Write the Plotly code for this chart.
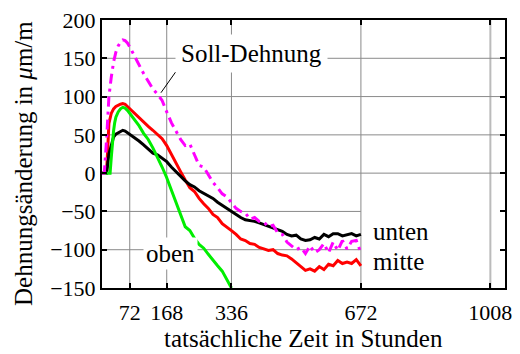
import plotly.graph_objects as go

# Time axis (hours) shared by the Soll, mitte and unten series
hours = [0, 6, 12, 18, 24, 30, 36, 42, 48, 54, 60, 66, 72,
         84, 96, 108, 120, 132, 144, 156, 168, 180, 192, 204, 216, 228, 240,
         252, 264, 276, 288, 300, 312, 324, 336, 348, 360, 372, 384, 396, 408,
         420, 432, 444, 456, 468, 480, 492, 504, 516, 528, 540, 552, 564, 576,
         588, 600, 612, 624, 636, 648, 660, 672]

soll = [0, 0, 45, 100, 125, 145, 158, 166, 171, 174, 173, 170, 165,
        153, 141, 130, 120, 110, 103, 95, 80, 66, 55, 44, 36, 38, 24,
        10, 8, -3, -12, -19, -27, -31, -38, -46, -50, -52, -60, -58, -63,
        -64, -70, -68, -78, -80, -90, -95, -100, -97, -105, -95, -104, -100, -92,
        -104, -90, -101, -88, -99, -89, -88, -104]

mitte = [0, 0, 2, 65, 78, 84, 87, 89, 90, 91, 90, 87, 84,
         78, 73, 66, 61, 56, 51, 45, 36, 24, 14, 2, -9, -19, -24,
         -33, -40, -46, -54, -58, -66, -70, -75, -80, -86, -88, -92, -93, -97,
         -99, -101, -100, -105, -107, -108, -112, -117, -121, -127, -125, -128, -122, -126,
         -119, -121, -114, -118, -116, -118, -113, -121]

unten = [0, 0, 0, 25, 38, 47, 51, 53, 55, 56, 55, 53, 51,
         46, 42, 37, 31, 26, 24, 20, 15, 8, 2, -5, -10, -15, -18,
         -23, -26, -30, -33, -38, -42, -47, -51, -55, -58, -61, -62, -63, -65,
         -67, -69, -71, -73, -76, -80, -82, -81, -86, -88, -87, -84, -86, -80,
         -83, -79, -79, -82, -80, -79, -82, -80]

# The "oben" series leaves the plotted range at about two weeks
hours_oben = [0, 6, 12, 18, 21, 24, 27, 30, 33, 36, 42, 48, 54, 60, 66, 72,
              84, 96, 108, 120, 132, 144, 156, 168, 180, 192, 204, 216, 228, 240,
              252, 264, 276, 288, 300, 312, 324, 336]
oben = [0, 0, 0, 0, 0, 20, 40, 55, 66, 73, 80, 84, 86, 85, 82, 78,
        70, 62, 52, 44, 33, 21, 8, -6, -22, -38, -55, -70, -75, -85,
        -93, -98, -106, -114, -121, -128, -139, -150]

x_ticks = [72, 168, 336, 672, 1008]
y_ticks = [-150, -100, -50, 0, 50, 100, 150, 200]
x_range = [0, 1046]
y_range = [-150, 200]

x_title = "tatsächliche Zeit in Stunden"
y_title = "Dehnungsänderung in <i>μ</i>m/m"

FONT = "Liberation Serif"
GRID = "#8a8a8a"

fig = go.Figure()

series = [
    ("mitte", hours, mitte, "#ff0000", "solid"),
    ("unten", hours, unten, "#000000", "solid"),
    ("oben", hours_oben, oben, "#00ee00", "solid"),
    ("Soll-Dehnung", hours, soll, "#ff00ff", "10px,5px,3px,5px"),
]
for name, xs, ys, color, dash in series:
    fig.add_trace(go.Scatter(x=xs, y=ys, mode="lines", name=name,
                             line=dict(color=color, width=3, dash=dash)))

# Grid lines drawn beneath the curves
for xv in x_ticks:
    fig.add_shape(type="line", xref="x", yref="paper", x0=xv, x1=xv, y0=0, y1=1,
                  line=dict(color="#bbbbbb" if xv == 1008 else GRID,
                            width=2 if xv == 1008 else 1),
                  layer="below")
for yv in y_ticks[1:-1]:
    x_end = 672 if yv in (-100, -50) else x_range[1]
    fig.add_shape(type="line", xref="x", yref="y", x0=0, x1=x_end, y0=yv, y1=yv,
                  line=dict(color=GRID, width=1), layer="below")
# Leader line from the Soll-Dehnung label to its curve
fig.add_shape(type="line", xref="x", yref="y", x0=191, y0=132, x1=153, y1=105,
              line=dict(color="black", width=1))

label_font = dict(family=FONT, size=25, color="black")
fig.add_annotation(x=190, y=156, text="Soll-Dehnung", xanchor="left", yanchor="middle",
                   showarrow=False, bgcolor="white", borderpad=5, font=label_font)
fig.add_annotation(x=177, y=-105, text="oben", xanchor="center", yanchor="middle",
                   showarrow=False, bgcolor="white", borderpad=2, font=label_font)
fig.add_annotation(x=698, y=-76, text="unten", xanchor="left", yanchor="middle",
                   showarrow=False, font=label_font)
fig.add_annotation(x=698, y=-116, text="mitte", xanchor="left", yanchor="middle",
                   showarrow=False, font=label_font)
fig.add_annotation(x=0.5, y=-0.19, xref="paper", yref="paper", text=x_title,
                   xanchor="center", yanchor="middle", showarrow=False,
                   font=label_font)
fig.add_annotation(x=-0.193, y=0.4635, xref="paper", yref="paper", text=y_title,
                   textangle=-90, xanchor="center", yanchor="middle", showarrow=False,
                   font=label_font)

axis_style = dict(showline=True, linecolor="black", linewidth=2, mirror="ticks",
                  ticks="inside", ticklen=5, tickwidth=1.5, tickcolor="black",
                  showgrid=False, zeroline=False,
                  tickfont=dict(family=FONT, size=22, color="black"))

fig.update_layout(
    width=520, height=354,
    margin=dict(l=102, r=8, t=14, b=66),
    paper_bgcolor="white", plot_bgcolor="white",
    showlegend=False,
    xaxis=dict(range=x_range, tickvals=x_ticks, ticklabelstandoff=4, **axis_style),
    yaxis=dict(range=y_range, tickvals=y_ticks, **axis_style),
)

fig.write_html("out.html")
